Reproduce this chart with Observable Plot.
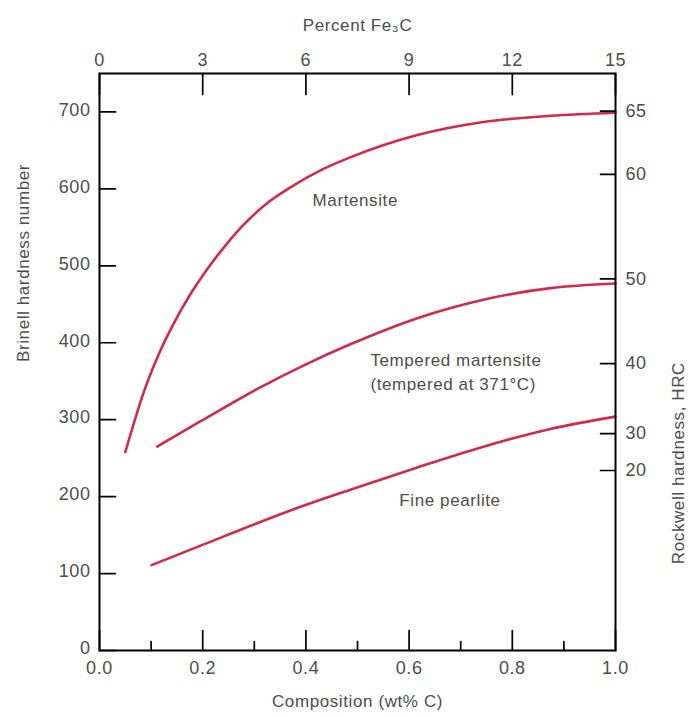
<!DOCTYPE html>
<html>
<head>
<meta charset="utf-8">
<script src="https://cdn.jsdelivr.net/npm/d3@7"></script>
<script src="https://cdn.jsdelivr.net/npm/@observablehq/plot@0.6"></script>
<style>
  body { margin: 0; background: #fff; }
  svg { display: block; }
</style>
</head>
<body>
<div id="chart"></div>
<script>
// ---- Data ----
const martensiteC  = [0.050, 0.089, 0.118, 0.143, 0.176, 0.209, 0.240, 0.273, 0.326, 0.370, 0.434, 0.486, 0.616, 0.744, 0.874, 1.000];
const martensiteHB = [258,   342,   390,   424,   463,   496,   523,   549,   582,   602,   626,   641,   670,   687,   695,   699];

const temperedC  = [0.112, 0.196, 0.306, 0.400, 0.486, 0.616, 0.744, 0.874, 1.000];
const temperedHB = [265,   298,   340,   372,   398,   432,   456,   471,   477];

const pearliteC  = [0.101, 0.240, 0.370, 0.486, 0.616, 0.744, 0.874, 1.000];
const pearliteHB = [111,   148,   182,   209,   238,   265,   288,   304];

// Axis ticks
const compMajor = [0, 0.2, 0.4, 0.6, 0.8, 1.0];
const compMinor = [0.1, 0.3, 0.5, 0.7, 0.9];
const fe3cTicks = [0, 3, 6, 9, 12, 15];
const brinellTicks = [0, 100, 200, 300, 400, 500, 600, 700];
const hrcTicks = [20, 30, 40, 50, 60, 65];
const hrcBrinellEq = [234, 282, 373, 483, 619, 701];

// Curve annotations
const annoText = ["Martensite", "Tempered martensite\n(tempered at 371°C)", "Fine pearlite"];
const annoC    = [0.413, 0.525, 0.581];
const annoHB   = [588, 364, 198];

// ---- Build tables ----
const series = [
  ...martensiteC.map((c, i) => ({c, hb: martensiteHB[i], s: "Martensite"})),
  ...temperedC.map((c, i) => ({c, hb: temperedHB[i], s: "Tempered"})),
  ...pearliteC.map((c, i) => ({c, hb: pearliteHB[i], s: "Pearlite"}))
];
const annos = annoText.map((t, i) => ({t, c: annoC[i], hb: annoHB[i]}));
const hrcMap = new Map(hrcBrinellEq.map((b, i) => [b, hrcTicks[i]]));

const tickShape = {draw(ctx, l) { ctx.moveTo(0, 0); ctx.lineTo(0, -l); }};
const FONT = "Liberation Sans, Arial, Helvetica, sans-serif";
const TXT = "#4d4d4d";
const RED = "#d02a4c";
const FS = 18;

const chart = Plot.plot({
  width: 688,
  height: 717,
  marginLeft: 99,
  marginRight: 73,
  marginTop: 73,
  marginBottom: 67,
  style: {fontFamily: FONT, background: "#fff", color: TXT, letterSpacing: "0.6px"},
  x: {domain: [0, 1]},
  y: {domain: [0, 750]},
  marks: [
    // curves
    Plot.line(series, {x: "c", y: "hb", z: "s", stroke: RED, strokeWidth: 2.6, curve: "monotone-x"}),
    // frame
    Plot.frame({stroke: "black", strokeWidth: 2}),
    // inward ticks
    Plot.vector(compMajor, {x: d => d, frameAnchor: "bottom", length: 20, anchor: "start", rotate: 0, shape: tickShape, stroke: "black", strokeWidth: 1.7}),
    Plot.vector(compMinor, {x: d => d, frameAnchor: "bottom", length: 9, anchor: "start", rotate: 0, shape: tickShape, stroke: "black", strokeWidth: 1.7}),
    Plot.vector(fe3cTicks, {x: d => d / 15, frameAnchor: "top", length: 21, anchor: "start", rotate: 180, shape: tickShape, stroke: "black", strokeWidth: 1.7}),
    Plot.vector(brinellTicks, {y: d => d, frameAnchor: "left", length: 16, anchor: "start", rotate: 90, shape: tickShape, stroke: "black", strokeWidth: 1.7}),
    Plot.vector(hrcBrinellEq, {y: d => d, frameAnchor: "right", length: 15, anchor: "start", rotate: -90, shape: tickShape, stroke: "black", strokeWidth: 1.7}),
    // tick labels
    Plot.axisX({anchor: "bottom", ticks: compMajor, tickSize: 0, tickPadding: 11, tickFormat: d3.format(".1f"), fontSize: FS, label: null}),
    Plot.axisX({anchor: "top", ticks: fe3cTicks.map(d => d / 15), tickSize: 0, tickPadding: 8, tickFormat: d => String(Math.round(d * 15)), fontSize: FS, label: null}),
    Plot.axisY({anchor: "left", ticks: brinellTicks, tickSize: 0, tickPadding: 9, fontSize: FS, label: null, dy: -2}),
    Plot.axisY({anchor: "right", ticks: hrcBrinellEq, tickSize: 0, tickPadding: 10, tickFormat: d => String(hrcMap.get(d)), fontSize: FS, label: null}),
    // axis titles
    Plot.text(["Composition (wt% C)"], {frameAnchor: "bottom", dy: 56, fontSize: 17, fill: TXT}),
    Plot.text(["Percent Fe₃C"], {frameAnchor: "top", dy: -55, fontSize: 17, fill: TXT}),
    Plot.text(["Brinell hardness number"], {frameAnchor: "left", dx: -76, rotate: -90, fontSize: 17, fill: TXT}),
    Plot.text(["Rockwell hardness, HRC"], {frameAnchor: "right", dx: 63, rotate: -90, fontSize: 17, fill: TXT}),
    // curve annotations
    Plot.text(annos, {x: "c", y: "hb", text: "t", textAnchor: "start", lineAnchor: "middle", fontSize: 17, lineHeight: 1.4, fill: TXT})
  ]
});
document.getElementById("chart").appendChild(chart);
</script>
</body>
</html>
